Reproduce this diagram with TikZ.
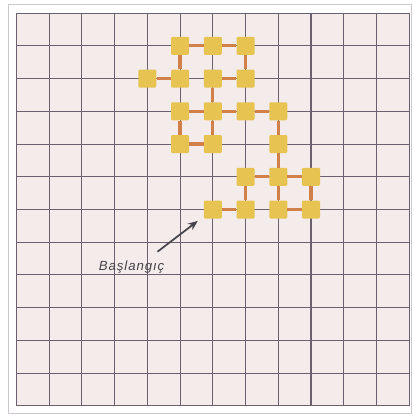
\documentclass[tikz,border=0pt]{standalone}
\usepackage{fontspec}
\usetikzlibrary{arrows.meta}
\newfontfamily\startfont[LetterSpace=7]{Liberation Sans}

\definecolor{paper}{RGB}{243,236,235}
\definecolor{gridgray}{RGB}{105,97,110}
\definecolor{framegray}{RGB}{205,200,205}
\definecolor{siteyellow}{RGB}{231,195,82}
\definecolor{bondorange}{RGB}{208,128,72}
\definecolor{textgray}{RGB}{70,68,74}

\tikzset{
    site/.style={rectangle, fill=siteyellow, minimum size=0.55cm, inner sep=0pt, rounded corners=1pt},
    bond/.style={bondorange, line width=2.8pt},
    pointer/.style={-{Stealth[length=3mm,width=2.4mm]}, line width=1.5pt, textgray, shorten >=0.22cm}
}

\begin{document}
\begin{tikzpicture}[x=1cm, y=1cm]

    % fix the margins
    \useasboundingbox (-0.50,-0.43) rectangle (12.12,12.40);
    \fill[white] (-0.50,-0.43) rectangle (12.12,12.40);
    \draw[framegray, line width=0.6pt] (-0.25,-0.24) rectangle (12.06,12.27);

    % draw the grid
    \fill[paper] (0,0) rectangle (12,12);
    \draw[gridgray, line width=0.9pt] (0,0) grid (12,12);

    % sites of the walk
    \foreach \x/\y in {5/11,6/11,7/11,4/10,5/10,6/10,7/10,5/9,6/9,7/9,8/9,
                       5/8,6/8,8/8,7/7,8/7,9/7,6/6,7/6,8/6,9/6}
        \node[site] (p\x-\y) at (\x,\y) {};

    % bonds between sites
    \foreach \a/\b in {5-11/6-11, 6-11/7-11, 5-11/5-10, 7-11/7-10, 4-10/5-10,
                       6-10/7-10, 6-10/6-9, 5-9/6-9, 6-9/7-9, 7-9/8-9,
                       5-9/5-8, 6-9/6-8, 5-8/6-8, 8-9/8-8, 8-8/8-7,
                       7-7/8-7, 8-7/9-7, 7-7/7-6, 8-7/8-6, 9-7/9-6,
                       6-6/7-6, 8-6/9-6}
        \draw[bond] (p\a) -- (p\b);

    % start label
    \node[textgray, font=\startfont\itshape\fontsize{11.5}{13}\selectfont] (start) at (3.52,4.25) {Başlangıç};
    \coordinate (tail) at (4.31,4.71);
    \draw[pointer] (tail) -- (p6-6);

\end{tikzpicture}
\end{document}
